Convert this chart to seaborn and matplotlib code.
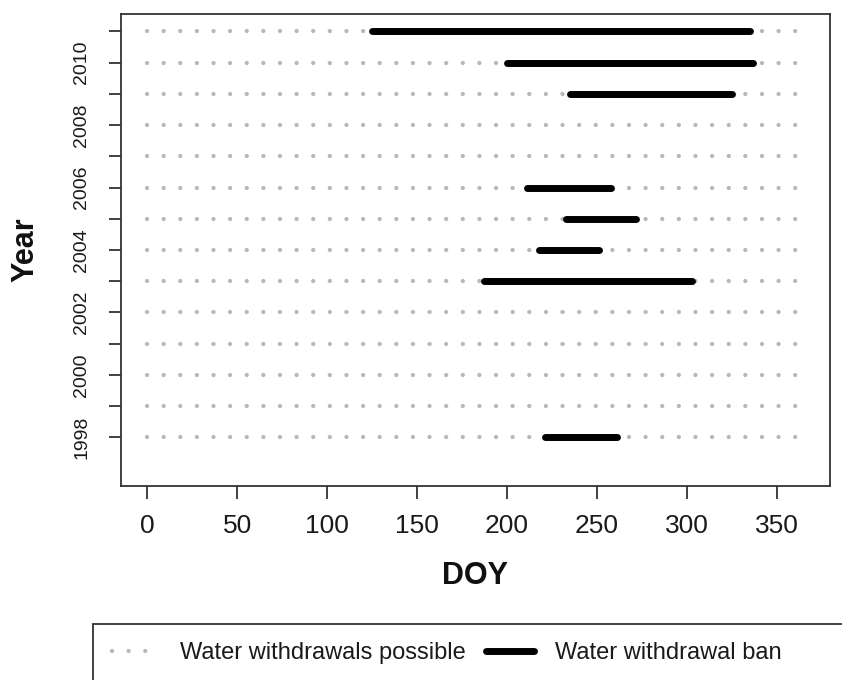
import numpy as np
import pandas as pd
import matplotlib.pyplot as plt
import matplotlib.patches as mpatches
from matplotlib.lines import Line2D
import seaborn as sns

# years with a possible withdrawal season (dotted) and ban periods (solid)
years = list(range(1998, 2012))
season_start = 0
season_end = 365

ban_years = [1998, 2003, 2004, 2005, 2006, 2009, 2010, 2011]
ban_start = [221, 187, 218, 233, 211, 235, 200, 125]
ban_end = [261, 303, 251, 272, 258, 325, 337, 335]

x_ticks = [0, 50, 100, 150, 200, 250, 300, 350]
y_ticks = years
y_labels = [str(y) if y % 2 == 0 and y <= 2010 else "" for y in years]

sns.set_style("ticks")
plt.rcParams['font.family'] = ['Liberation Sans', 'DejaVu Sans']

possible = pd.DataFrame({
    "Year": np.repeat(years, 2),
    "DOY": [d for _ in years for d in (season_start, season_end)],
})
ban = pd.DataFrame({
    "Year": np.repeat(ban_years, 2),
    "DOY": [d for s, e in zip(ban_start, ban_end) for d in (s, e)],
})

fig = plt.figure(figsize=(8.42, 6.8), dpi=100)
ax = fig.add_axes([121 / 842, 1 - 486 / 680, 709 / 842, 472 / 680])

dot_color = "#b8b8b8"
dot_lw = 3.1
dot_style = (0, (0.01, 3.85))
sns.lineplot(data=possible, x="DOY", y="Year", units="Year", estimator=None,
             sort=False, color=dot_color, linewidth=dot_lw, ax=ax, legend=False)
for ln in ax.lines:
    ln.set_linestyle(dot_style)
    ln.set_dash_capstyle("round")
n_dotted = len(ax.lines)

sns.lineplot(data=ban, x="DOY", y="Year", units="Year", estimator=None,
             sort=False, color="black", linewidth=5.0, ax=ax, legend=False)
for ln in ax.lines[n_dotted:]:
    ln.set_solid_capstyle("round")

ax.set_xlim(-14.6, 379.6)
ax.set_ylim(1996.44, 2011.56)
ax.set_xticks(x_ticks)
ax.set_xticklabels([str(t) for t in x_ticks])
ax.set_yticks(y_ticks)
ax.set_yticklabels(y_labels, rotation=90, va="center")

ax.tick_params(axis="x", labelsize=19, length=9, width=1.3, pad=11,
               color="#333333", labelcolor="#1a1a1a")
ax.tick_params(axis="y", labelsize=14, length=9, width=1.3, pad=13,
               color="#333333", labelcolor="#1a1a1a")
for sp in ax.spines.values():
    sp.set_visible(True)
    sp.set_linewidth(1.3)
    sp.set_color("#333333")

ax.set_xlabel("DOY", fontsize=22, fontweight="bold", color="#111111")
ax.set_ylabel("Year", fontsize=22, fontweight="bold", color="#111111")
ax.xaxis.label.set_va("center")
ax.yaxis.label.set_va("center")
ax.xaxis.set_label_coords(0.5, -90 / 472)
ax.yaxis.set_label_coords(-96 / 709, 0.5)

# legend below the plot, frame runs off the figure edge like the original
handles = [
    Line2D([0], [0], color=dot_color, linewidth=dot_lw, linestyle=dot_style,
           dash_capstyle="round"),
    Line2D([0], [0], color="black", linewidth=5.0, solid_capstyle="round"),
]
labels = ["Water withdrawals possible", "Water withdrawal ban"]
fig.legend(handles, labels, ncol=2, loc="center left",
           bbox_to_anchor=(112 / 842, 1 - 653 / 680), frameon=False,
           fontsize=17, handlelength=2.0, handletextpad=0.9,
           columnspacing=0.85, borderpad=0, borderaxespad=0,
           labelcolor="#1a1a1a")
frame = mpatches.Rectangle((93 / 842, 1 - 720 / 680), 900 / 842, 96 / 680,
                           transform=fig.transFigure, fill=False,
                           edgecolor="#333333", linewidth=1.3)
fig.add_artist(frame)

fig.savefig("out.png", dpi=100)
